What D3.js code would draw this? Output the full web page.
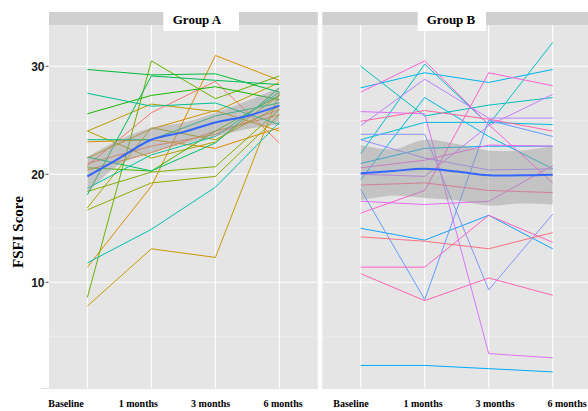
<!DOCTYPE html>
<html>
<head>
<meta charset="utf-8">
<script src="https://cdn.jsdelivr.net/npm/d3@7"></script>
<style>
  html, body { margin: 0; padding: 0; background: #fff; }
  svg { display: block; }
</style>
</head>
<body>
<div id="chart"></div>
<script>
// time points on the x axis
const timepoints = ["Baseline", "1 months", "3 months", "6 months"];
const groups = ["Group A", "Group B"];

// FSFI score per subject, ordered by subject id (colour order)
const groupASubjects = [
  [20.8, 25.7, 28.6, 22.9],
  [21.0, 22.6, 23.7, 26.0],
  [20.4, 22.0, 24.0, 25.5],
  [23.0, 23.2, 22.4, 24.3],
  [11.4, 18.9, 31.0, 28.7],
  [21.5, 24.2, 25.9, 24.0],
  [7.8, 13.1, 12.3, 27.5],
  [24.0, 26.5, 25.8, 28.5],
  [24.0, 21.5, 23.0, 27.3],
  [16.9, 24.3, 23.2, 26.3],
  [16.7, 19.2, 19.8, 25.5],
  [18.4, 20.2, 20.7, 26.0],
  [8.6, 30.5, 27.0, 29.1],
  [20.6, 20.3, 24.0, 27.3],
  [25.6, 27.3, 28.1, 26.9],
  [29.7, 29.2, 29.3, 27.6],
  [18.1, 29.1, 28.7, 28.3],
  [21.6, 20.3, 22.9, 28.0],
  [23.2, 23.2, 25.4, 26.6],
  [27.5, 26.3, 26.6, 24.6],
  [18.7, 21.8, 23.5, 27.6],
  [11.8, 14.9, 18.8, 24.8]
];

const groupBSubjects = [
  [30.0, 25.4, 26.4, 27.1],
  [21.9, 30.2, 24.6, 32.2],
  [23.2, 24.8, 24.8, 24.6],
  [19.5, 27.1, 23.5, 20.5],
  [28.0, 29.4, 28.5, 29.7],
  [21.0, 22.4, 22.6, 22.6],
  [2.3, 2.3, 2.0, 1.7],
  [15.0, 13.9, 16.2, 13.1],
  [18.6, 8.4, 25.0, 23.5],
  [23.7, 23.7, 9.3, 16.3],
  [23.2, 21.5, 20.4, 20.5],
  [24.5, 28.8, 25.2, 25.2],
  [20.0, 19.8, 24.5, 27.4],
  [25.8, 25.6, 3.4, 3.0],
  [17.5, 17.2, 17.5, 20.8],
  [20.6, 21.3, 22.7, 22.6],
  [27.6, 30.5, 24.6, 19.2],
  [16.4, 18.5, 29.4, 28.2],
  [11.4, 11.4, 16.2, 13.7],
  [10.8, 8.3, 10.4, 8.8],
  [24.9, 25.9, 25.1, 24.0],
  [19.0, 19.2, 18.5, 18.3],
  [14.2, 13.8, 13.1, 14.6]
];

// loess fit with its confidence band, read at half-steps of the time index
const smoothSteps = [0, 0.5, 1, 1.5, 2, 2.5, 3];
const groupAFit = [19.8, 21.5, 23.2, 23.9, 24.8, 25.4, 26.35];
const groupALower = [18.3, 20.9, 22.0, 22.8, 23.5, 24.2, 24.6];
const groupAUpper = [21.6, 23.2, 24.3, 24.8, 25.7, 26.8, 28.0];
const groupBFit = [20.1, 20.3, 20.5, 20.25, 19.9, 19.9, 19.95];
const groupBLower = [17.6, 18.0, 17.8, 17.6, 17.1, 17.3, 17.2];
const groupBUpper = [22.7, 22.3, 23.2, 22.8, 22.2, 22.2, 22.6];

const yTicks = [10, 20, 30];
const yMinorTicks = [5, 15, 25];

const width = 588, height = 411;
const panelTop = 25, panelBottom = 388;
const panelWidth = 268.8;
const panelLefts = [49, 322.3];
const labelRanges = [[66, 283], [351, 567]];
// white label boxes pasted over the strips (left, right, text centre)
const stripBoxes = [[163.3, 239, 197], [417.7, 486, 451]];

const svg = d3.select("#chart").append("svg")
  .attr("width", width)
  .attr("height", height);

const y = d3.scaleLinear().domain([0.21, 33.82]).range([panelBottom, panelTop]);

// ggplot-style hue palette (polar LUV, c = 100, l = 65)
function polarLuv(h, c, l) {
  const rad = (h * Math.PI) / 180;
  const u = c * Math.cos(rad), v = c * Math.sin(rad);
  const Y = l > 8 ? Math.pow((l + 16) / 116, 3) : l / 903.3;
  const up = u / (13 * l) + 0.1978398;
  const vp = v / (13 * l) + 0.4683363;
  const X = (9 * Y * up) / (4 * vp);
  const Z = -X / 3 - 5 * Y + (3 * Y) / vp;
  const lin = [
    3.240479 * X - 1.53715 * Y - 0.498535 * Z,
    -0.969256 * X + 1.875992 * Y + 0.041556 * Z,
    0.055648 * X - 0.204043 * Y + 1.057311 * Z
  ];
  const [r, g, b] = lin.map((c) => {
    const s = c <= 0.0031308 ? 12.92 * c : 1.055 * Math.pow(c, 1 / 2.4) - 0.055;
    return Math.max(0, Math.min(255, Math.round(s * 255)));
  });
  return d3.rgb(r, g, b).formatHex();
}

const nSubjects = groupASubjects.length + groupBSubjects.length;
const hue = (i) => polarLuv(15 + (360 / nSubjects) * i, 100, 65);

const panels = [
  { name: groups[0], subjects: groupASubjects, offset: 0, fit: groupAFit, lo: groupALower, hi: groupAUpper },
  { name: groups[1], subjects: groupBSubjects, offset: groupASubjects.length, fit: groupBFit, lo: groupBLower, hi: groupBUpper }
];

panels.forEach((p, k) => {
  const x0 = panelLefts[k];
  const x = d3.scaleLinear().domain([-0.6, 3.6]).range([x0, x0 + panelWidth]);
  const g = svg.append("g");

  // panel background
  g.append("rect")
    .attr("x", x0).attr("y", panelTop)
    .attr("width", panelWidth).attr("height", panelBottom - panelTop)
    .attr("fill", "#e5e5e5");

  // grid
  g.selectAll(".minor").data(yMinorTicks).join("line")
    .attr("x1", x0).attr("x2", x0 + panelWidth)
    .attr("y1", (d) => y(d)).attr("y2", (d) => y(d))
    .attr("stroke", "#f2f2f2").attr("stroke-width", 0.6);
  g.selectAll(".major").data(yTicks).join("line")
    .attr("x1", x0).attr("x2", x0 + panelWidth)
    .attr("y1", (d) => y(d)).attr("y2", (d) => y(d))
    .attr("stroke", "#fff").attr("stroke-width", 1.1);
  g.selectAll(".vgrid").data(timepoints).join("line")
    .attr("x1", (d, i) => x(i)).attr("x2", (d, i) => x(i))
    .attr("y1", panelTop).attr("y2", panelBottom)
    .attr("stroke", "#fff").attr("stroke-width", 1.1);

  // subject lines
  const line = d3.line().x((d, i) => x(i)).y((d) => y(d));
  g.append("g").selectAll("path").data(p.subjects).join("path")
    .attr("d", line)
    .attr("fill", "none")
    .attr("stroke", (d, i) => hue(p.offset + i))
    .attr("stroke-width", 1);

  // loess band and fit
  const band = d3.area()
    .x((d) => x(d))
    .y0((d, i) => y(p.lo[i]))
    .y1((d, i) => y(p.hi[i]))
    .curve(d3.curveCatmullRom);
  g.append("path")
    .attr("d", band(smoothSteps))
    .attr("fill", "#999").attr("fill-opacity", 0.45);
  const fitLine = d3.line()
    .x((d) => x(d))
    .y((d, i) => y(p.fit[i]))
    .curve(d3.curveCatmullRom);
  g.append("path")
    .attr("d", fitLine(smoothSteps))
    .attr("fill", "none")
    .attr("stroke", "#3366ff").attr("stroke-width", 2);

  // strip
  g.append("rect")
    .attr("x", x0).attr("y", 12)
    .attr("width", panelWidth).attr("height", 13)
    .attr("fill", "#d0d0d0");
  const [bx0, bx1, tx] = stripBoxes[k];
  g.append("rect")
    .attr("x", bx0).attr("y", 12)
    .attr("width", bx1 - bx0).attr("height", 19)
    .attr("fill", "#fff");
  g.append("text")
    .attr("x", tx).attr("y", 23.5)
    .attr("text-anchor", "middle")
    .attr("font-family", "Liberation Serif, Times New Roman, serif")
    .attr("font-weight", "bold")
    .attr("font-size", 13)
    .attr("fill", "#000")
    .text(p.name);

  // bottom axis line and time labels
  g.append("line")
    .attr("x1", k === 0 ? 41 : x0).attr("x2", x0 + panelWidth)
    .attr("y1", panelBottom + 0.5).attr("y2", panelBottom + 0.5)
    .attr("stroke", "#e2e2e2").attr("stroke-width", 1);
  const xl = d3.scalePoint().domain(timepoints).range(labelRanges[k]);
  g.selectAll(".xlab").data(timepoints).join("text")
    .attr("x", (d) => xl(d)).attr("y", 407)
    .attr("text-anchor", "middle")
    .attr("font-family", "Liberation Serif, Times New Roman, serif")
    .attr("font-weight", "bold")
    .attr("font-size", 10)
    .attr("fill", "#000")
    .text((d) => d);
});

// y axis on the left panel
const yAxis = svg.append("g");
yAxis.selectAll("line").data(yTicks).join("line")
  .attr("x1", 45.5).attr("x2", 48.5)
  .attr("y1", (d) => y(d)).attr("y2", (d) => y(d))
  .attr("stroke", "#555").attr("stroke-width", 1);
yAxis.selectAll("text").data(yTicks).join("text")
  .attr("x", 44.5).attr("y", (d) => y(d) + 4.3)
  .attr("text-anchor", "end")
  .attr("font-family", "Liberation Sans, Arial, sans-serif")
  .attr("font-weight", "bold")
  .attr("font-size", 12)
  .attr("fill", "#1a1a1a")
  .text((d) => d);

svg.append("text")
  .attr("transform", "translate(22.5,232) rotate(-90)")
  .attr("text-anchor", "middle")
  .attr("font-family", "Liberation Serif, Times New Roman, serif")
  .attr("font-weight", "bold")
  .attr("font-size", 15)
  .attr("fill", "#000")
  .text("FSFI Score");
</script>
</body>
</html>
